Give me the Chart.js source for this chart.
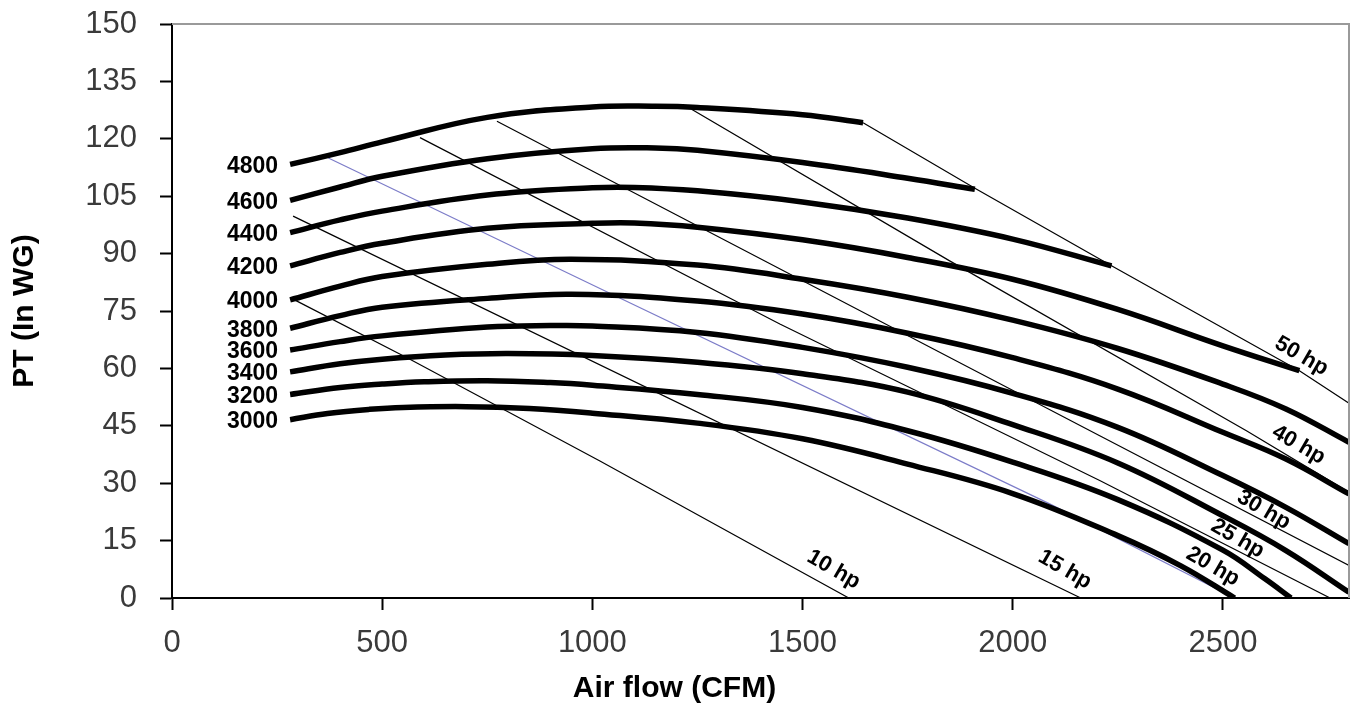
<!DOCTYPE html>
<html>
<head>
<meta charset="utf-8">
<script src="https://cdn.jsdelivr.net/npm/chart.js@4.4.1/dist/chart.umd.min.js"></script>
<style>
html,body{margin:0;padding:0;background:#fff;}
#wrap{width:1357px;height:711px;position:relative;}
</style>
</head>
<body>
<div id="wrap"><canvas id="c" width="1357" height="711"></canvas></div>
<script>
// ---- Fan curves (speed in RPM): air flow (CFM) and total pressure PT (in WG)
const rpmLabels = ['3000','3200','3400','3600','3800','4000','4200','4400','4600','4800'];

const cfm3000 = [281, 370, 470, 550, 700, 850, 1000, 1250, 1500, 1750, 2000, 2250, 2400, 2528];
const pt3000  = [46.6, 48.2, 49.3, 49.8, 50.0, 49.5, 48.3, 45.7, 41.6, 35.0, 27.3, 16.3, 8.4, 0];

const cfm3200 = [281, 400, 500, 600, 750, 900, 1000, 1250, 1500, 1750, 2000, 2250, 2500, 2600, 2662];
const pt3200  = [53.2, 55.0, 55.9, 56.5, 56.8, 56.3, 55.6, 53.2, 49.8, 43.7, 35.5, 25.7, 12.5, 5.0, 0];

const cfm3400 = [281, 400, 500, 650, 800, 1000, 1250, 1500, 1750, 2000, 2250, 2500, 2650, 2800];
const pt3400  = [59.1, 61.2, 62.4, 63.5, 63.9, 63.4, 61.6, 58.6, 53.8, 45.3, 35.3, 21.5, 12.4, 1.5];

const cfm3600 = [281, 400, 500, 750, 900, 1000, 1250, 1500, 1750, 2000, 2250, 2500, 2650, 2800];
const pt3600  = [64.8, 67.0, 68.5, 70.8, 71.2, 71.1, 69.4, 65.5, 60.3, 53.5, 44.6, 32.0, 23.7, 14.2];

const cfm3800 = [281, 400, 500, 750, 950, 1250, 1500, 1750, 2000, 2250, 2500, 2650, 2800];
const pt3800  = [70.5, 73.8, 76.0, 78.3, 79.4, 77.6, 74.2, 69.2, 62.8, 54.6, 43.3, 36.3, 27.2];

const cfm4000 = [281, 400, 500, 750, 950, 1250, 1500, 1750, 2000, 2250, 2500, 2650, 2800];
const pt4000  = [77.9, 81.5, 84.0, 87.2, 88.5, 87.0, 83.3, 78.6, 72.6, 65.2, 55.9, 49.4, 40.7];

const cfm4200 = [281, 400, 500, 750, 1000, 1100, 1250, 1500, 1750, 2000, 2250, 2500, 2682];
const pt4200  = [86.8, 90.3, 92.7, 96.6, 97.9, 98.0, 96.9, 93.6, 89.0, 83.3, 75.4, 65.9, 59.4];

const cfm4400 = [281, 400, 500, 750, 1000, 1100, 1250, 1500, 1750, 2000, 2235];
const pt4400  = [95.5, 98.8, 101.1, 105.3, 107.2, 107.3, 106.4, 103.5, 99.3, 93.8, 86.8];

const cfm4600 = [281, 400, 500, 750, 1000, 1150, 1250, 1500, 1750, 1910];
const pt4600  = [103.9, 107.4, 110.2, 114.8, 117.4, 117.6, 117.0, 113.8, 109.7, 106.8];

const cfm4800 = [281, 400, 500, 750, 1000, 1150, 1250, 1500, 1644];
const pt4800  = [113.3, 116.4, 119.2, 125.6, 128.3, 128.5, 128.2, 126.3, 124.2];

// ---- Power lines (hp)
const hpLabels = ['10 hp','15 hp','20 hp','25 hp','30 hp','40 hp','50 hp'];
const hp10cfm = [288, 566, 1018, 1610];        const hp10pt = [78.1, 62.4, 35.8, 0];
const hp15cfm = [288, 2162];                    const hp15pt = [99.8, 0];
const hp20cfm = [372, 1018, 2088, 2528];        const hp20pt = [115.0, 80.9, 24.6, 0];
const hp25cfm = [590, 1446, 2207, 2755];        const hp25pt = [120.3, 71.6, 30.7, 0];
const hp30cfm = [773, 2207, 2800];              const hp30pt = [124.6, 42.4, 8.5];
const hp40cfm = [1236, 1850, 2556, 2797];       const hp40pt = [127.7, 88.1, 43.7, 27.8];
const hp50cfm = [1644, 1910, 2235, 2682, 2800]; const hp50pt = [124.2, 107.1, 86.8, 59.4, 50.9];

// ---- Axis ticks
const xTicks = [0, 500, 1000, 1500, 2000, 2500];
const yTicks = [0, 15, 30, 45, 60, 75, 90, 105, 120, 135, 150];

// label placement (data coordinates of each hp label centre)
const hpLabelAnchor = [[1574, 7.4], [2124, 7.4], [2476, 8.2], [2535, 15.5], [2597, 23.0], [2680, 40.0], [2687, 63.2]];

const pairs = (xs, ys) => xs.map((x, i) => ({x: x, y: ys[i]}));

const fanX = [cfm3000, cfm3200, cfm3400, cfm3600, cfm3800, cfm4000, cfm4200, cfm4400, cfm4600, cfm4800];
const fanY = [pt3000, pt3200, pt3400, pt3600, pt3800, pt4000, pt4200, pt4400, pt4600, pt4800];
const hpX = [hp10cfm, hp15cfm, hp20cfm, hp25cfm, hp30cfm, hp40cfm, hp50cfm];
const hpY = [hp10pt, hp15pt, hp20pt, hp25pt, hp30pt, hp40pt, hp50pt];

const BOLD = "'Liberation Sans', Arial, sans-serif";
const TICKF = "'Liberation Sans', Arial, sans-serif";

const datasets = [];
fanX.forEach((xs, i) => datasets.push({
  label: rpmLabels[i] + ' RPM',
  data: pairs(xs, fanY[i]),
  showLine: true, borderColor: '#000', borderWidth: 5.5, pointRadius: 0,
  tension: 0.4, fill: false
}));
hpX.forEach((xs, i) => datasets.push({
  label: hpLabels[i],
  data: pairs(xs, hpY[i]),
  showLine: true, borderColor: i === 2 ? '#7c7cc8' : '#000', borderWidth: 1.2, pointRadius: 0,
  tension: 0, fill: false
}));

const decoPlugin = {
  id: 'deco',
  afterDatasetsDraw(chart) {
    const {ctx, chartArea: a, scales} = chart;
    ctx.save();
    ctx.strokeStyle = '#9a9a9a'; ctx.lineWidth = 2;
    ctx.beginPath(); ctx.moveTo(a.left, a.top); ctx.lineTo(a.right, a.top); ctx.lineTo(a.right, a.bottom); ctx.stroke();
    ctx.fillStyle = '#000';
    ctx.font = "bold 23px " + BOLD;
    ctx.textAlign = 'right'; ctx.textBaseline = 'middle';
    rpmLabels.forEach((t, i) => {
      const p = chart.getDatasetMeta(i).data[0];
      ctx.fillText(t, p.x - 12, p.y + 2);
    });
    ctx.font = "bold 22px " + BOLD;
    ctx.textAlign = 'center'; ctx.textBaseline = 'middle';
    hpLabels.forEach((t, i) => {
      const px = scales.x.getPixelForValue(hpLabelAnchor[i][0]);
      const py = scales.y.getPixelForValue(hpLabelAnchor[i][1]);
      ctx.save(); ctx.translate(px, py); ctx.rotate(30 * Math.PI / 180);
      ctx.fillText(t, 0, 0); ctx.restore();
    });
    ctx.restore();
  }
};

new Chart(document.getElementById('c'), {
  type: 'scatter',
  data: {datasets},
  options: {
    responsive: false, animation: false, devicePixelRatio: 1,
    layout: {autoPadding: false, padding: {top: 24, right: 8, left: 0, bottom: 0}},
    plugins: {
      legend: {display: false}, tooltip: {enabled: false},
      title: {display: true, position: 'bottom', text: 'Air flow (CFM)', color: '#000',
              font: {family: BOLD, size: 30, weight: 'bold'}, padding: {top: 0, bottom: 4}}
    },
    scales: {
      x: {
        type: 'linear', min: 0, max: 2800,
        afterBuildTicks: s => { s.ticks = xTicks.map(v => ({value: v})); },
        afterFit: s => { s.height = 73; s.paddingLeft = 0; s.paddingRight = 0; },
        grid: {drawOnChartArea: false, drawTicks: true, tickLength: 12, tickWidth: 2, tickColor: '#000'},
        border: {display: true, color: '#000', width: 2},
        ticks: {color: '#3a3a3a', padding: 15, font: {family: TICKF, size: 31}, maxRotation: 0, callback: v => String(v)}
      },
      y: {
        type: 'linear', min: 0, max: 150,
        afterBuildTicks: s => { s.ticks = yTicks.map(v => ({value: v})); },
        afterFit: s => { s.width = 172; s.paddingTop = 0; s.paddingBottom = 0; },
        grid: {drawOnChartArea: false, drawTicks: true, tickLength: 12, tickWidth: 2, tickColor: '#000'},
        border: {display: true, color: '#000', width: 2},
        ticks: {color: '#3a3a3a', padding: 23, font: {family: TICKF, size: 31}, callback: v => String(v)},
        title: {display: true, text: 'PT (In WG)', color: '#000', font: {family: BOLD, size: 30, weight: 'bold'}, padding: {top: 7, bottom: 0}}
      }
    }
  },
  plugins: [decoPlugin]
});
</script>
</body>
</html>
